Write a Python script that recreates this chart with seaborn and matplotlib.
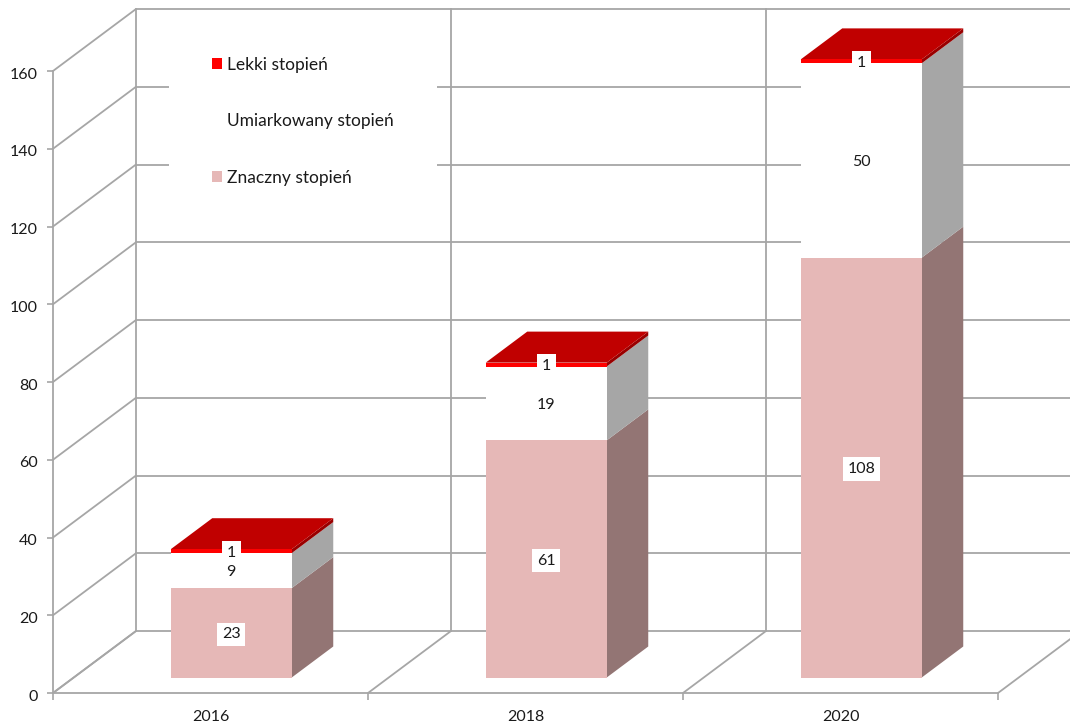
import numpy as np
import pandas as pd
import matplotlib.pyplot as plt
import matplotlib.transforms as mtrans
from matplotlib.patches import Rectangle
import seaborn as sns

sns.set_theme(style="white")
plt.rcParams['font.family'] = ['Lato', 'DejaVu Sans']

years = ['2016', '2018', '2020']
levels = ['Znaczny stopień', 'Umiarkowany stopień', 'Lekki stopień']
znaczny = [23, 61, 108]
umiarkowany = [9, 19, 50]
lekki = [1, 1, 1]
yticks = [0, 20, 40, 60, 80, 100, 120, 140, 160]

front_colors = ['#E6B8B7', '#FFFFFF', '#FF0000']
side_colors = ['#937574', '#A6A6A6', '#990000']
top_color = '#C00000'
grid_color = '#A6A6A6'
text_color = '#1A1A1A'

W, H = 1070, 723
FS = 12.5
YTOP = 178  # room above 160 for the back wall

df = pd.DataFrame({'year': years * 3,
                   'level': np.repeat(levels, 3),
                   'value': znaczny + umiarkowany + lekki})

fig = plt.figure(figsize=(W / 100, H / 100), dpi=100)
ax = fig.add_axes([53 / W, (H - 693) / H, 945 / W, 3.8875 * YTOP / H])

# depth of the fake 3d box, in data units
DX = 83 / 315
DY = 62 / 3.8875
BAR_W = 121 / 315
D_FRONT = 0.25
D_BACK = 0.75


def proj(x, y, d):
    return x + d * DX, y + d * DY


bar_shift = mtrans.Affine2D().translate(D_FRONT * DX, D_FRONT * DY) + ax.transData

# front faces
bottom = np.zeros(3)
for level, col in zip(levels, front_colors):
    sub = df[df['level'] == level]
    n_before = len(ax.patches)
    sns.barplot(data=sub, x='year', y='value', order=years, color=col, saturation=1,
                width=BAR_W, bottom=bottom, label=level, errorbar=None, linewidth=0, ax=ax)
    for p in ax.patches[n_before:]:
        p.set_transform(bar_shift)
        p.set_zorder(4)
        p.set_clip_on(False)
    bottom = bottom + sub['value'].values

ax.set_xlim(-0.5, 2.5)
ax.set_ylim(0, YTOP)

# walls and floor
edges = [-0.5, 0.5, 1.5, 2.5]
lines = dict(color=grid_color, lw=1.3, zorder=1, clip_on=False)
for t in yticks:
    x0, y0 = proj(-0.5, t, 1)
    ax.plot([-0.5, x0], [t, y0], **lines)
    for e0, e1 in zip(edges[:-1], edges[1:]):
        ax.plot([e0 + DX, e1 + DX], [y0, y0], **lines)
for e in edges:
    x0, y0 = proj(e, 0, 1)
    ax.plot([e, x0], [0, y0], **lines)
    ax.plot([x0, x0], [y0, 160 + DY], **lines)

# white backing of the legend hides the wall lines
ax.add_patch(Rectangle((169 / W, (H - 225) / H), 268 / W, 195 / H, transform=fig.transFigure,
                       fc='white', ec='none', zorder=2, clip_on=False))

# side and top faces, labels
for i in range(3):
    left = i - BAR_W / 2
    right = i + BAR_W / 2
    base = 0
    for vals, col_s, in zip([znaczny, umiarkowany, lekki], side_colors):
        v = vals[i]
        a = proj(right, base, D_FRONT)
        b = proj(right, base, D_BACK)
        c = proj(right, base + v, D_BACK)
        d = proj(right, base + v, D_FRONT)
        ax.fill(*zip(a, b, c, d), fc=col_s, ec='none', zorder=3, clip_on=False)
        lx, ly = proj(i, base + v / 2, D_FRONT)
        ax.annotate(str(v), (lx, ly), xytext=(0, -1.2), textcoords='offset points', ha='center', va='center',
                    fontsize=11.5, color=text_color, zorder=6, annotation_clip=False,
                    bbox=dict(fc='white', ec='none', pad=3.5))
        base += v
    a = proj(left, base, D_FRONT)
    b = proj(left, base, D_BACK)
    c = proj(right, base, D_BACK)
    d = proj(right, base, D_FRONT)
    ax.fill(*zip(a, b, c, d), fc=top_color, ec='none', zorder=3, clip_on=False)

# axes
sns.despine(ax=ax, top=True, right=True)
for s in ['left', 'bottom']:
    ax.spines[s].set_color(grid_color)
    ax.spines[s].set_linewidth(1.3)
ax.spines['left'].set_bounds(0, 160)
ax.set_xlabel('')
ax.set_ylabel('')
ax.set_yticks(yticks)
ax.set_xticks([0, 1, 2])
ax.set_xticks(edges, minor=True)
ax.tick_params(axis='x', which='major', length=0, pad=12, labelsize=11.5, labelcolor=text_color)
ax.tick_params(axis='x', which='minor', bottom=True, length=5, width=1.2, color=grid_color)
ax.tick_params(axis='y', left=True, length=4, width=1.2, color=grid_color, pad=7,
               labelsize=11.5, labelcolor=text_color)
label_drop = mtrans.ScaledTranslation(0, -1.5 / 72, fig.dpi_scale_trans)
for lab in ax.get_yticklabels():
    lab.set_transform(lab.get_transform() + label_drop)

handles, labels = ax.get_legend_handles_labels()
leg = ax.legend(handles[::-1], labels[::-1], loc='upper left', bbox_to_anchor=(212 / W, (H - 57) / H),
                bbox_transform=fig.transFigure, frameon=False, fontsize=FS, borderpad=0, borderaxespad=0,
                handlelength=0.6, handleheight=0.6, handletextpad=0.25, labelspacing=2.32,
                labelcolor=text_color)
leg.set_zorder(7)

fig.savefig('out.png', dpi=100)
